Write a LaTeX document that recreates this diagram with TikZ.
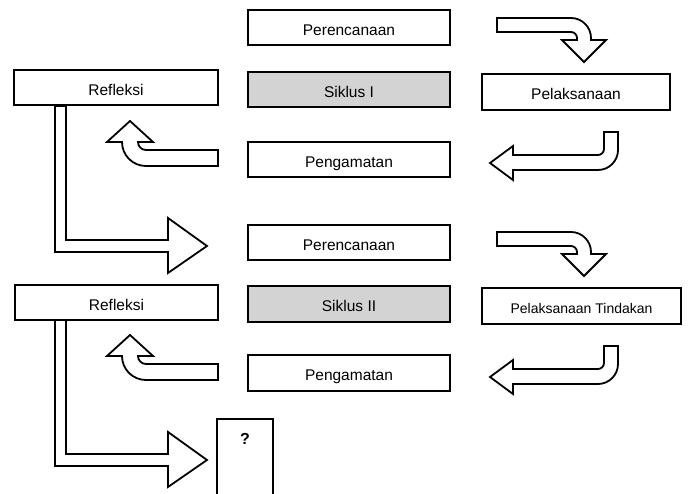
\documentclass[tikz,border=0pt]{standalone}
\usepackage{fontspec}
\setmainfont{Liberation Sans}
\definecolor{siklusgray}{RGB}{211,211,211}
\tikzset{
  box/.style={draw=black, line width=1.8pt, fill=white, inner sep=0pt,
    minimum height=35pt, text height=16pt, text depth=0pt,
    font=\fontsize{15.5}{16}\selectfont},
  sikbox/.style={box, fill=siklusgray},
  blk/.style={draw=black, line width=1.8pt, fill=white, line join=miter},
  pics/bendright/.style={code={
    \draw[blk] (497,18) -- (571,18) .. controls (582,18) and (591,27) .. (591,38)
      -- (591,40) -- (606,40) -- (584,62) -- (562,40) -- (577,40) -- (577,38)
      .. controls (577,34.7) and (574.3,32) .. (571,32) -- (497,32) -- cycle;
  }},
  pics/bendleft/.style={code={
    \draw[blk] (604,132) -- (618,132) -- (618,150) .. controls (618,161) and (609,170) .. (598,170)
      -- (513,170) -- (513,180) -- (490,163) -- (513,146) -- (513,155) -- (598,155)
      .. controls (601.3,155) and (604,152.3) .. (604,149) -- cycle;
  }},
  pics/bendup/.style={code={
    \draw[blk] (218,150) -- (146,150) .. controls (141.6,150) and (138,146.4) .. (138,142)
      -- (153,142) -- (130,121) -- (107,142) -- (122,142)
      .. controls (122,155.3) and (132.7,166) .. (146,166) -- (218,166) -- cycle;
  }},
  pics/elbow/.style={code={
    \draw[blk] (55,106) -- (66,106) -- (66,240) -- (168,240) -- (168,218) -- (207,246)
      -- (168,273) -- (168,252) -- (55,252) -- cycle;
  }},
}
\begin{document}
\begin{tikzpicture}[x=1pt,y=-1pt]
\clip (0,0) rectangle (689,494);
\fill[white] (0,0) rectangle (689,494);

% block arrows, cycle I and cycle II
\pic at (0,0) {bendright};
\pic at (0,0) {bendleft};
\pic at (0,0) {bendup};
\pic at (0,0) {elbow};
\pic at (0,214) {bendright};
\pic at (0,214) {bendleft};
\pic at (0,214) {bendup};
\pic at (0,214) {elbow};

% boxes
\node[box, minimum width=202pt] (per1) at (349,27.5) {Perencanaan};
\node[sikbox, minimum width=202pt] (sik1) at (349,89.5) {Siklus I};
\node[box, minimum width=204pt] (ref1) at (116,87.5) {Refleksi};
\node[box, minimum width=188pt, minimum height=36pt] (pel1) at (576,92) {Pelaksanaan};
\node[box, minimum width=202pt] (pen1) at (349,159.5) {Pengamatan};

\node[box, minimum width=202pt] (per2) at (349,242.5) {Perencanaan};
\node[sikbox, minimum width=202pt, minimum height=36pt] (sik2) at (349,304) {Siklus II};
\node[box, minimum width=203pt] (ref2) at (116.5,302.5) {Refleksi};
\node[box, minimum width=199pt, minimum height=36pt, font=\fontsize{14}{15}\selectfont] (pel2) at (581.5,306) {Pelaksanaan Tindakan};
\node[box, minimum width=202pt, minimum height=36pt] (pen2) at (349,373) {Pengamatan};

\node[box, minimum width=56pt, minimum height=100pt, text height=0pt, text depth=48pt,
  font=\bfseries\fontsize{16}{17}\selectfont] (q) at (245,469) {?};
\end{tikzpicture}
\end{document}
